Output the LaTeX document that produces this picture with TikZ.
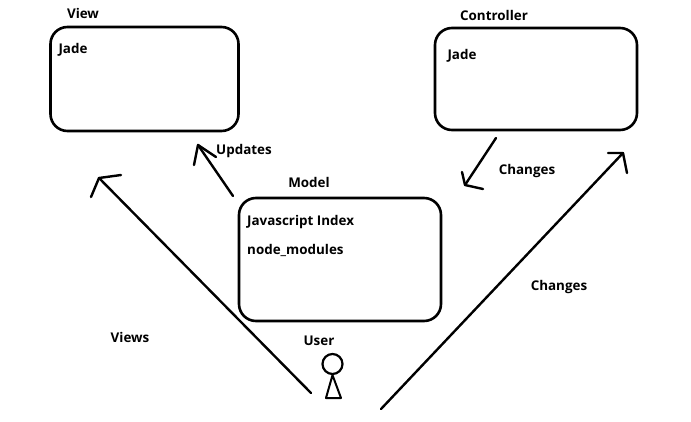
\documentclass[tikz,border=0pt]{standalone}
\usepackage{fontspec}
\setmainfont{Open Sans}
\usepackage{xcolor}
\usetikzlibrary{positioning,calc}
\tikzset{
  partbox/.style={draw=black,line width=2.6pt,rounded corners=17pt,inner sep=0pt},
  sketchlabel/.style={font=\bfseries\fontsize{13.4}{15}\selectfont,inner sep=0pt,text=black},
  sketchline/.style={draw=black,line width=2.4pt,line cap=round,line join=round}
}
\begin{document}
\begin{tikzpicture}[x=1pt,y=-1pt]
  \useasboundingbox (0,0) rectangle (691,421);
  % the three boxes
  \node[partbox,minimum width=188pt,minimum height=104pt] (view) at (144.5,79) {};
  \node[partbox,minimum width=202pt,minimum height=102pt] (controller) at (536,79) {};
  \node[partbox,minimum width=202pt,minimum height=123pt] (model) at (340,259.5) {};

  \node[sketchlabel] (viewtitle) at (83,13) {View};
  \node[sketchlabel] (viewjade) at (73,50) {Jade};
  \node[sketchlabel] (controllertitle) at (494,15) {Controller};
  \node[sketchlabel] (controllerjade) at (462,56) {Jade};
  \node[sketchlabel] (modeltitle) at (309,182) {Model};
  \node[sketchlabel,anchor=west] (modelindex) at (247,222) {Javascript Index};
  \node[sketchlabel,anchor=west] (modelmodules) at (247,250) {node\_modules};
  \node[sketchlabel] (updateslabel) at (244,151) {Updates};
  \node[sketchlabel] (changeslabel) at (527,171) {Changes};
  \node[sketchlabel] (userchanges) at (559,287) {Changes};
  \node[sketchlabel] (viewslabel) at (130,337) {Views};
  \node[sketchlabel] (userlabel) at (319,341) {User};

  % stick figure
  \node[draw=black,line width=2.2pt,circle,minimum size=20pt,inner sep=0pt] (userhead) at (332.5,364) {};
  \coordinate (userleft) at (326,398);
  \coordinate (userright) at (341,398);
  \draw[sketchline,line width=2pt,line cap=butt] (userhead.south) -- (userleft) -- (userright) -- cycle;

  % hand drawn arrows, tail/tip/barb/barb
  \foreach \name/\tail/\tip/\barba/\barbb in {
      updates/{233,196}/{198,145}/{194,165}/{216,157},
      views/{311,393}/{99,178}/{91,197}/{121,175},
      changes/{496,138}/{465,185}/{462,172}/{483,189},
      userarrow/{381,409}/{623,153}/{608,153}/{627,173}}{
    \coordinate (\name tail) at (\tail);
    \coordinate (\name tip) at (\tip);
    \coordinate (\name a) at (\barba);
    \coordinate (\name b) at (\barbb);
    \draw[sketchline] (\name tail) -- (\name tip);
    \draw[sketchline] (\name a) -- (\name tip) -- (\name b);
  }
\end{tikzpicture}
\end{document}
